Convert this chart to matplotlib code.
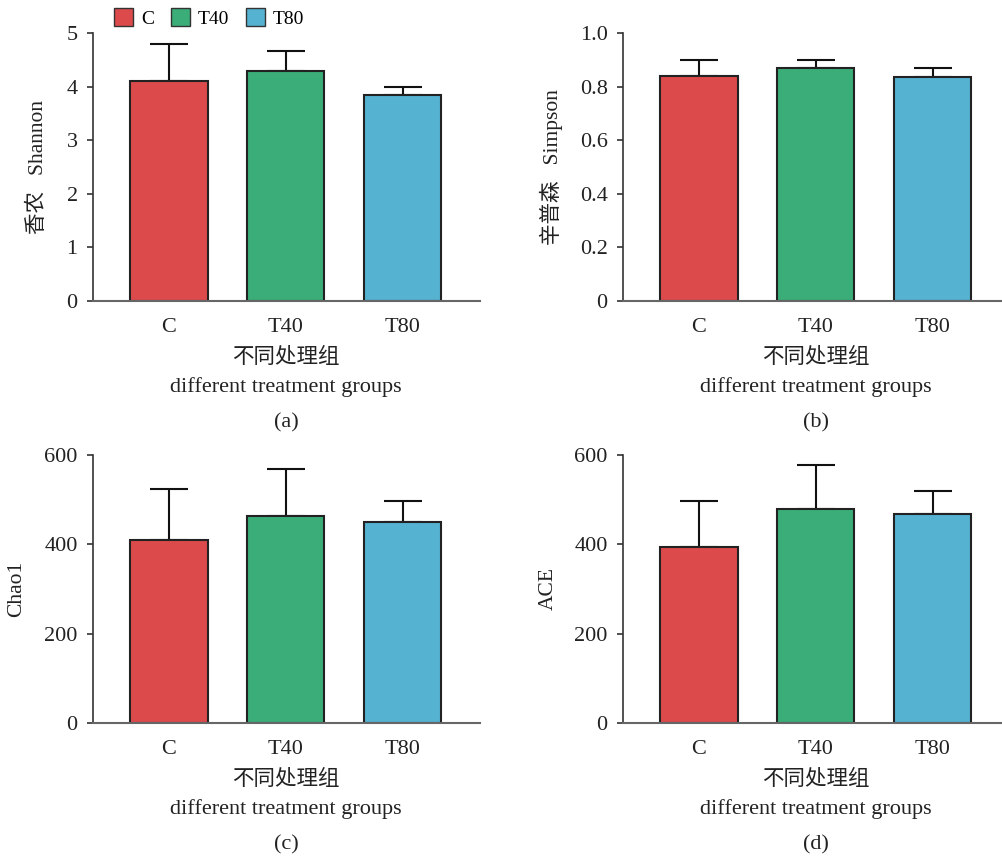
import matplotlib
matplotlib.use("Agg")
import matplotlib.pyplot as plt
from matplotlib.patches import Patch

plt.rcParams['font.family'] = ['Liberation Serif', 'Noto Sans CJK SC', 'DejaVu Sans']

groups = ['C', 'T40', 'T80']
colors = ['#DC4A4C', '#3AAD78', '#55B3D1']

shannon = [4.11, 4.30, 3.84]
shannon_err = [0.68, 0.36, 0.16]
simpson = [0.840, 0.870, 0.836]
simpson_err = [0.060, 0.030, 0.032]
chao1 = [410, 464, 449]
chao1_err = [114, 105, 49]
ace = [393, 478, 469]
ace_err = [104, 100, 50]

panels = [
    dict(vals=shannon, err=shannon_err, ylabel='香农   Shannon', ylim=(0, 5),
         yticks=[0, 1, 2, 3, 4, 5], yticklabels=['0', '1', '2', '3', '4', '5'], tag='(a)'),
    dict(vals=simpson, err=simpson_err, ylabel='辛普森   Simpson', ylim=(0, 1.0),
         yticks=[0, 0.2, 0.4, 0.6, 0.8, 1.0],
         yticklabels=['0', '0.2', '0.4', '0.6', '0.8', '1.0'], tag='(b)'),
    dict(vals=chao1, err=chao1_err, ylabel='Chao1', ylim=(0, 600),
         yticks=[0, 200, 400, 600], yticklabels=['0', '200', '400', '600'], tag='(c)'),
    dict(vals=ace, err=ace_err, ylabel='ACE', ylim=(0, 600),
         yticks=[0, 200, 400, 600], yticklabels=['0', '200', '400', '600'], tag='(d)'),
]

W, H = 1003, 859
fig = plt.figure(figsize=(W / 100, H / 100), dpi=100)

# pixel geometry: (left, top, bottom) per panel
geom = [(93, 33, 301), (623, 33, 301), (93, 455, 723), (623, 455, 723)]
axw = 387
ylab_x = [38, 551, 17, 548]

for i, (p, (lx, ty, by)) in enumerate(zip(panels, geom)):
    ax = fig.add_axes([lx / W, 1 - by / H, axw / W, (by - ty) / H])
    x = list(range(len(groups)))
    ax.bar(x, p['vals'], width=0.66, color=colors, edgecolor='#222222', linewidth=1.5, zorder=2)
    ax.errorbar(x, p['vals'], yerr=[[0] * 3, p['err']], fmt='none', ecolor='#111111',
                elinewidth=1.5, capsize=14, capthick=1.5, zorder=1)
    ax.set_xlim(-0.65, 2.66)
    ax.set_ylim(*p['ylim'])
    ax.set_yticks(p['yticks'])
    ax.set_yticklabels(p['yticklabels'])
    ax.set_xticks(x)
    ax.set_xticklabels(groups)
    for s in ['top', 'right']:
        ax.spines[s].set_visible(False)
    ax.spines['left'].set_color('#333333')
    ax.spines['left'].set_linewidth(1.2)
    ax.spines['bottom'].set_color('#666666')
    ax.spines['bottom'].set_linewidth(1.5)
    ax.tick_params(axis='y', direction='out', length=4, width=1.2, color='#333333',
                   labelsize=16, pad=7, labelcolor='#222222')
    ax.tick_params(axis='x', length=0, labelsize=16, pad=12, labelcolor='#222222')
    ax.set_ylabel(p['ylabel'], fontsize=15.5, va='center', color='#222222')
    ax.yaxis.set_label_coords((ylab_x[i] - lx) / axw, 0.5)

    cx = lx + 193
    fig.text(cx / W, 1 - (by + 57) / H, '不同处理组', ha='center', va='center',
             fontsize=15.5, color='#222222')
    fig.text(cx / W, 1 - (by + 86) / H, 'different treatment groups', ha='center', va='center',
             fontsize=16, color='#222222')
    fig.text(cx / W, 1 - (by + 122) / H, p['tag'], ha='center', va='center',
             fontsize=16, color='#222222')

handles = [Patch(facecolor=c, edgecolor='#333333', linewidth=1.0) for c in colors]
fig.legend(handles, groups, loc='center left', bbox_to_anchor=(114 / W, 1 - 18 / H),
           ncol=3, frameon=False, fontsize=14, handlelength=1.0, handleheight=1.0,
           handletextpad=0.4, columnspacing=0.85, borderpad=0, borderaxespad=0)

fig.savefig('out.png', dpi=100, facecolor='white')
